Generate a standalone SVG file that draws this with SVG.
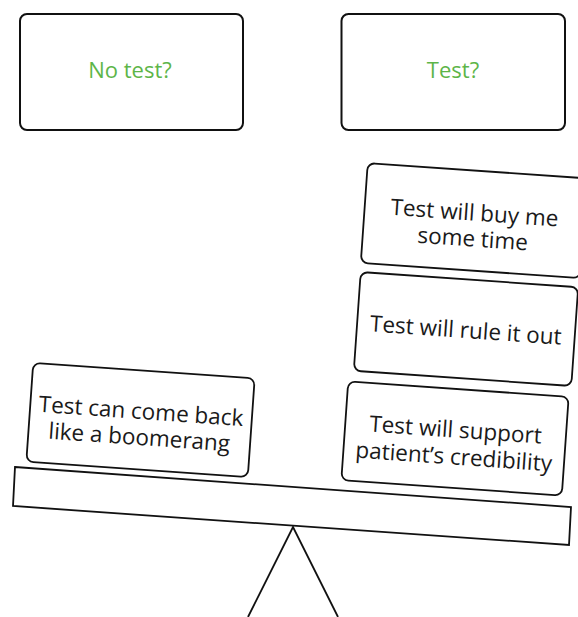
<svg xmlns="http://www.w3.org/2000/svg" width="578" height="617" viewBox="0 0 578 617">
<style>
.box{fill:#fff;stroke:#111;stroke-width:2}
.card{fill:#fff;stroke:#111;stroke-width:1.8}
.q{font-family:"Open Sans","Noto Sans",sans-serif;font-size:22px;fill:#5db548;text-anchor:middle}
.t{font-family:"Open Sans","Noto Sans",sans-serif;font-size:22.5px;fill:#1a1a1a;text-anchor:middle}
.line{fill:none;stroke:#111;stroke-width:1.8}
</style>
<rect width="578" height="617" fill="#fff"/>
<g id="no-test">
<rect class="box" x="20" y="14" width="223" height="116" rx="7"/>
<text class="q" x="130" y="78">No test?</text>
</g>
<g id="test">
<rect class="box" x="341.5" y="14" width="223.5" height="116" rx="7"/>
<text class="q" x="453" y="78">Test?</text>
</g>
<g id="seesaw">
<polygon class="line" points="15,467 571,507 569,545 13,506"/>
<polyline class="line" points="248,617 293,527 338,617"/>
</g>
<g id="boomerang" transform="translate(140.5,420) rotate(4)">
<rect class="card" x="-111" y="-49.5" width="222" height="99" rx="7"/>
<text class="t" x="0" y="-1">Test can come back</text>
<text class="t" x="0" y="25">like a boomerang</text>
</g>
<g id="credibility" transform="translate(455,438.5) rotate(4)">
<rect class="card" x="-110.5" y="-49.5" width="221" height="99" rx="7"/>
<text class="t" x="0" y="-1">Test will support</text>
<text class="t" x="0" y="26">patient’s credibility</text>
</g>
<g id="rule-out" transform="translate(466,329) rotate(4)">
<rect class="card" x="-109" y="-49.5" width="218" height="99" rx="7"/>
<text class="t" x="0" y="9">Test will rule it out</text>
</g>
<g id="buy-time" transform="translate(474,220.6) rotate(4)">
<rect class="card" x="-110" y="-50" width="220" height="100" rx="7"/>
<text class="t" x="0" y="0">Test will buy me</text>
<text class="t" x="0" y="26">some time</text>
</g>
</svg>
